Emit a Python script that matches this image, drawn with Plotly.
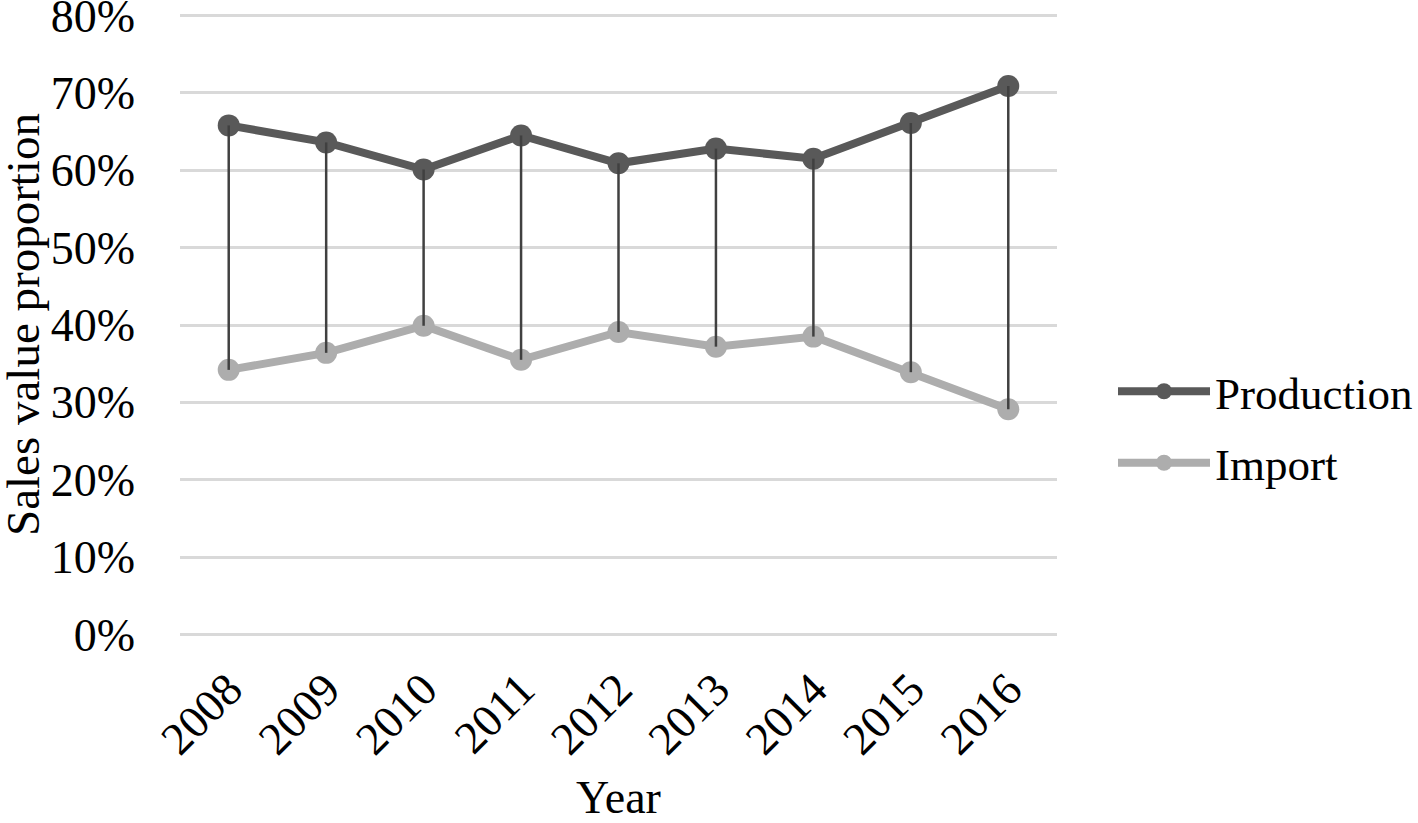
import plotly.graph_objects as go

years = ["2008", "2009", "2010", "2011", "2012", "2013", "2014", "2015", "2016"]
production = [0.658, 0.636, 0.601, 0.645, 0.609, 0.628, 0.615, 0.661, 0.709]
imports = [0.342, 0.364, 0.399, 0.355, 0.391, 0.372, 0.385, 0.339, 0.291]
y_ticks = [0, 0.1, 0.2, 0.3, 0.4, 0.5, 0.6, 0.7, 0.8]
y_tick_labels = ["0%", "10%", "20%", "30%", "40%", "50%", "60%", "70%", "80%"]

FONT = "Liberation Serif, Times New Roman, serif"
FS = 46

fig = go.Figure()
fig.add_trace(go.Scatter(
    x=years, y=production, name="Production", mode="lines+markers",
    line=dict(color="#595959", width=8), marker=dict(color="#595959", size=22),
    legendgroup="p",
))
fig.add_trace(go.Scatter(
    x=years, y=imports, name="Import", mode="lines+markers",
    line=dict(color="#ADADAD", width=8), marker=dict(color="#ADADAD", size=22),
    legendgroup="i",
))
# high-low drop lines
hx, hy = [], []
for yr, p, i in zip(years, production, imports):
    hx += [yr, yr, None]
    hy += [p, i, None]
fig.add_trace(go.Scatter(
    x=hx, y=hy, mode="lines", line=dict(color="#404040", width=2.5),
    showlegend=False, hoverinfo="skip",
))

W, H = 1418, 823
L, R, T, B = 180, 0, 14, 187
pw = W - L - R
ph = H - T - B
dom_x = (1057 - L) / pw

fig.update_layout(
    width=W, height=H,
    margin=dict(l=L, r=R, t=T, b=B, autoexpand=False),
    paper_bgcolor="white", plot_bgcolor="white",
    font=dict(family=FONT, size=FS, color="black"),
    legend=dict(
        x=(1113 - L) / pw, xanchor="left", y=(H - B - 427) / ph, yanchor="middle",
        font=dict(size=45, family=FONT), tracegroupgap=10,
        itemwidth=92, itemsizing="trace",
        bgcolor="rgba(0,0,0,0)",
    ),
    xaxis=dict(
        domain=[0, dom_x],
        type="category", range=[-0.5, 8.5], tickangle=-45,
        showgrid=False, showline=False, zeroline=False, automargin=False,
        tickfont=dict(size=FS, family=FONT), ticklabelstandoff=16,
        title=dict(text="Year", font=dict(size=FS, family=FONT), standoff=31),
    ),
    yaxis=dict(
        range=[-0.002, 0.802], tickvals=y_ticks, ticktext=y_tick_labels,
        showgrid=True, gridcolor="#D9D9D9", gridwidth=2.5,
        zeroline=False, showline=False, automargin=False,
        ticklabeloverflow="allow",
        tickfont=dict(size=FS, family=FONT), ticklabelstandoff=44,
    ),
    annotations=[dict(
        text="Sales value proportion", textangle=-90,
        xref="paper", yref="paper", x=(23 - L) / pw, y=(H - B - 325) / ph,
        xanchor="center", yanchor="middle", showarrow=False,
        font=dict(size=FS + 1, family=FONT, color="black"),
    )],
)

fig.write_html(
    "out.html",
    config={"displayModeBar": False},
    post_script="document.body.style.margin='0';document.body.style.overflow='hidden';",
)
